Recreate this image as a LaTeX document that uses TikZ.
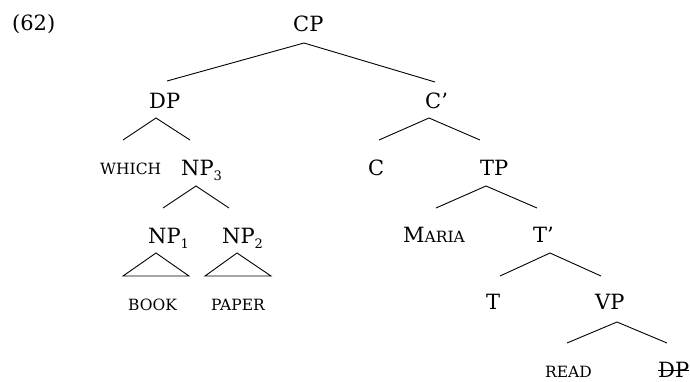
\documentclass[tikz,border=0pt]{standalone}
\usepackage{fontspec}
\setmainfont{DejaVu Serif}
\newcommand\bigf{\fontsize{21}{21}\selectfont}
\newcommand\smf{\fontsize{15.5}{16}\selectfont}
\newcommand\subf[1]{\raisebox{-5pt}{\fontsize{13}{13}\selectfont #1}}
\tikzset{
  lab/.style={inner sep=0pt, anchor=base west, font=\bigf},
  sc/.style={inner sep=0pt, anchor=base west, font=\smf},
  edge/.style={line width=0.9pt},
}
\begin{document}
\begin{tikzpicture}[x=1pt,y=-1pt]
\useasboundingbox (0,0) rectangle (690,381);
% labels
\node[lab] (num) at (12,30) {(62)};
\node[lab] (CP) at (293,31) {CP};
\node[lab] (DP) at (149,108) {DP};
\node[lab] (Cbar) at (425,108) {C’};
\node[sc] (which) at (100,174) {WHICH};
\node[lab] (NP3) at (181,175) {NP\subf{3}};
\node[lab] (C) at (368,175) {C};
\node[lab] (TP) at (480,175) {TP};
\node[lab] (NP1) at (148,243) {NP\subf{1}};
\node[lab] (NP2) at (222,243) {NP\subf{2}};
\node[lab] (maria) at (403,242) {M{\smf ARIA}};
\node[lab] (Tbar) at (533,242) {T’};
\node[sc] (book) at (128,310) {BOOK};
\node[sc] (paper) at (211,310) {PAPER};
\node[lab] (T) at (486,309) {T};
\node[lab] (VP) at (595,309) {VP};
\node[sc] (read) at (545,377) {READ};
\node[lab] (DPs) at (658,377) {DP};
\draw[edge] ([yshift=7pt]DPs.base west) -- ([yshift=7pt]DPs.base east);
% branch points
\coordinate (cpA) at (304,43);
\coordinate (cpL) at (167,81);
\coordinate (cpR) at (435,82);
\coordinate (dpA) at (156,118);
\coordinate (dpL) at (123,140);
\coordinate (dpR) at (190,140);
\coordinate (cbA) at (429,118);
\coordinate (cbL) at (379,140);
\coordinate (cbR) at (480,140);
\coordinate (np3A) at (196,186);
\coordinate (np3L) at (163,208);
\coordinate (np3R) at (229,208);
\coordinate (tpA) at (486,186);
\coordinate (tpL) at (436,208);
\coordinate (tpR) at (537,208);
\coordinate (tbA) at (550,253);
\coordinate (tbL) at (500,276);
\coordinate (tbR) at (601,276);
\coordinate (vpA) at (617,322);
\coordinate (vpL) at (567,343);
\coordinate (vpR) at (667,343);
\coordinate (t1A) at (156,253);
\coordinate (t1L) at (123,276);
\coordinate (t1R) at (189,276);
\coordinate (t2A) at (237,253);
\coordinate (t2L) at (205,276);
\coordinate (t2R) at (271,276);
% edges
\draw[edge] (cpL) -- (cpA) -- (cpR);
\draw[edge] (dpL) -- (dpA) -- (dpR);
\draw[edge] (cbL) -- (cbA) -- (cbR);
\draw[edge] (np3L) -- (np3A) -- (np3R);
\draw[edge] (tpL) -- (tpA) -- (tpR);
\draw[edge] (tbL) -- (tbA) -- (tbR);
\draw[edge] (vpL) -- (vpA) -- (vpR);
\draw[edge] (t1A) -- (t1L) -- (t1R) -- cycle;
\draw[edge] (t2A) -- (t2L) -- (t2R) -- cycle;
\end{tikzpicture}
\end{document}
